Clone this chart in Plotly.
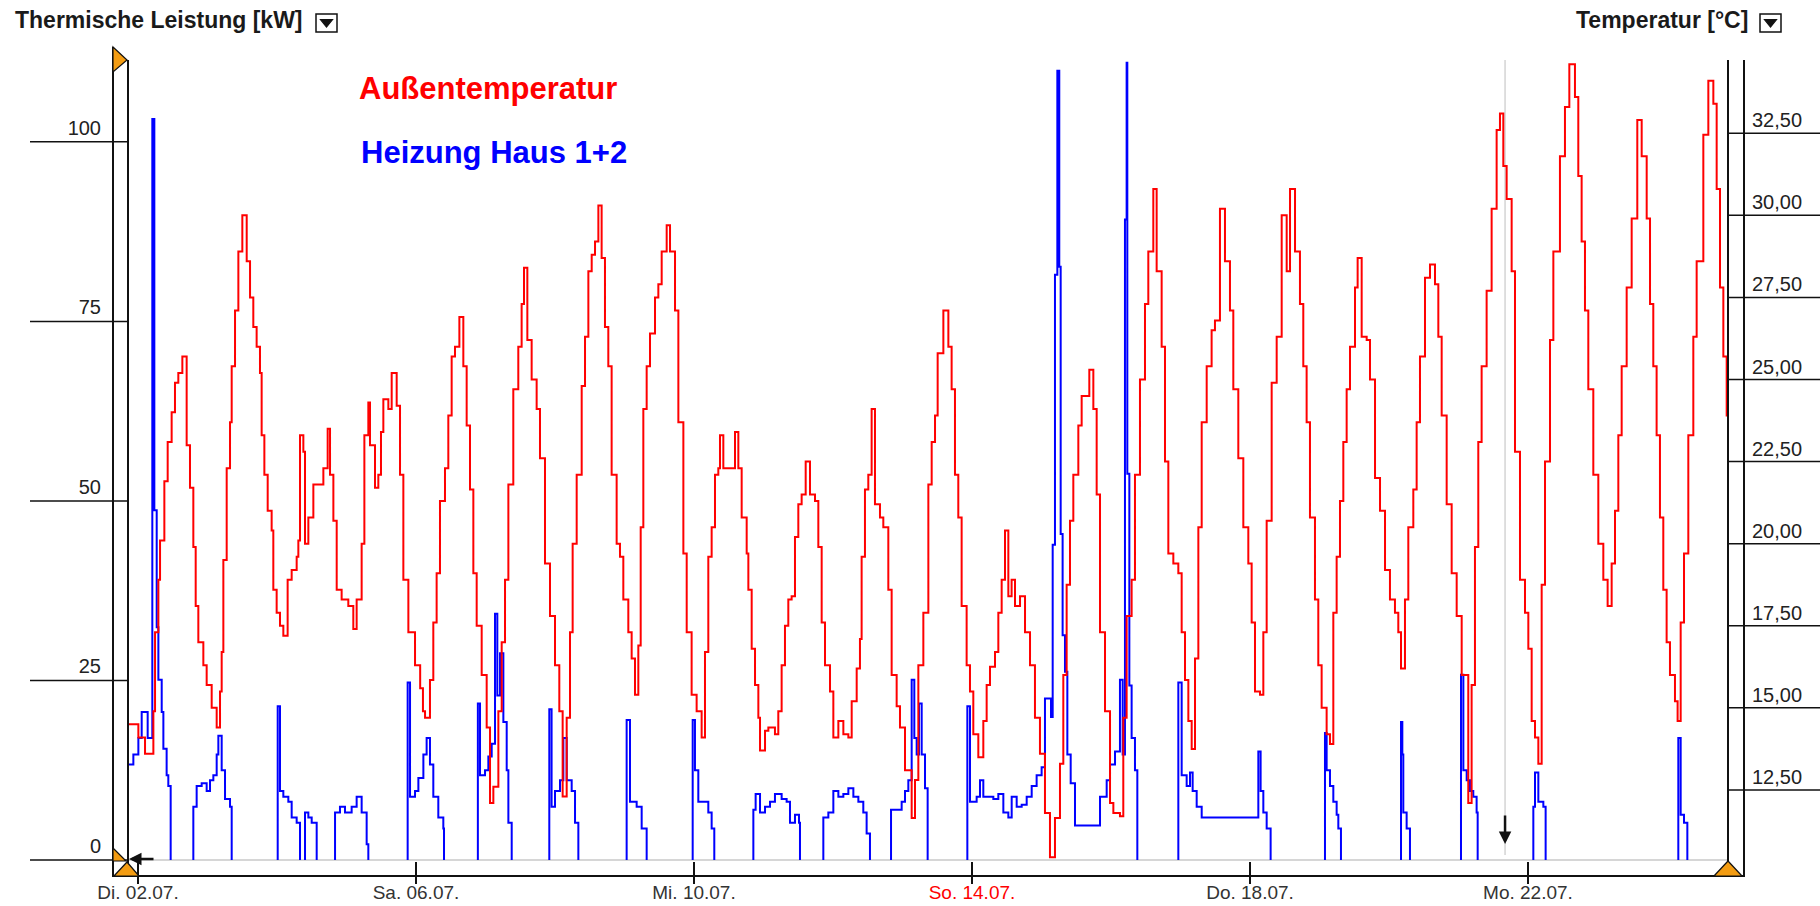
import plotly.graph_objects as go

# ---------------- data ----------------
tick_days = [0, 4, 8, 12, 16, 20]
tick_text = ["Di. 02.07.", "Sa. 06.07.", "Mi. 10.07.", "So. 14.07.", "Do. 18.07.", "Mo. 22.07."]
tick_red = [False, False, False, True, False, False]
kw_ticks = [0, 25, 50, 75, 100]
temp_ticks = [12.5, 15, 17.5, 20, 22.5, 25, 27.5, 30, 32.5]
cursor_day = 19.67

# Außentemperatur (days since 02.07. 00:00, degC)
temp_day = [
    -0.139, 0.005, 0.101, 0.221, 0.245, 0.293, 0.317, 0.379, 0.427, 0.484, 0.532, 0.580, 0.638,
    0.700, 0.748, 0.796, 0.830, 0.868, 0.940, 0.988, 1.060, 1.132, 1.180, 1.204, 1.228, 1.276,
    1.324, 1.348, 1.396, 1.444, 1.501, 1.564, 1.612, 1.659, 1.707, 1.755, 1.779, 1.818, 1.866,
    1.923, 1.947, 1.995, 2.043, 2.091, 2.153, 2.211, 2.283, 2.307, 2.331, 2.379, 2.403, 2.451,
    2.523, 2.667, 2.729, 2.763, 2.811, 2.859, 2.930, 3.026, 3.098, 3.146, 3.218, 3.257, 3.314,
    3.338, 3.410, 3.458, 3.496, 3.530, 3.602, 3.650, 3.722, 3.770, 3.818, 3.890, 3.986, 4.060,
    4.100, 4.130, 4.201, 4.249, 4.297, 4.345, 4.417, 4.465, 4.513, 4.561, 4.624, 4.681, 4.729,
    4.777, 4.825, 4.873, 4.945, 5.017, 5.065, 5.113, 5.185, 5.233, 5.281, 5.329, 5.400, 5.472,
    5.520, 5.554, 5.602, 5.664, 5.736, 5.784, 5.856, 5.928, 6.000, 6.062, 6.110, 6.168, 6.216,
    6.254, 6.312, 6.384, 6.432, 6.480, 6.528, 6.576, 6.624, 6.671, 6.719, 6.767, 6.815, 6.887,
    6.935, 6.983, 7.055, 7.103, 7.151, 7.199, 7.233, 7.271, 7.319, 7.367, 7.439, 7.487, 7.535,
    7.607, 7.655, 7.727, 7.775, 7.847, 7.895, 7.966, 8.038, 8.110, 8.158, 8.206, 8.254, 8.302,
    8.350, 8.374, 8.422, 8.590, 8.638, 8.686, 8.758, 8.782, 8.830, 8.878, 8.926, 8.950, 9.022,
    9.070, 9.165, 9.213, 9.261, 9.309, 9.357, 9.405, 9.453, 9.501, 9.549, 9.607, 9.669, 9.741,
    9.789, 9.837, 9.885, 9.957, 10.005, 10.077, 10.149, 10.221, 10.269, 10.341, 10.388, 10.412,
    10.460, 10.508, 10.556, 10.604, 10.676, 10.724, 10.796, 10.844, 10.916, 10.964, 11.036,
    11.132, 11.180, 11.228, 11.300, 11.372, 11.420, 11.468, 11.506, 11.588, 11.660, 11.707,
    11.755, 11.803, 11.851, 11.923, 11.971, 12.019, 12.091, 12.163, 12.211, 12.259, 12.331,
    12.379, 12.427, 12.475, 12.523, 12.570, 12.619, 12.691, 12.763, 12.835, 12.906, 12.978,
    13.050, 13.122, 13.194, 13.266, 13.314, 13.362, 13.410, 13.458, 13.530, 13.578, 13.688,
    13.746, 13.794, 13.842, 13.914, 13.986, 14.034, 14.129, 14.177, 14.225, 14.297, 14.345,
    14.417, 14.489, 14.537, 14.609, 14.657, 14.729, 14.777, 14.825, 14.897, 14.969, 15.017,
    15.065, 15.113, 15.161, 15.209, 15.257, 15.305, 15.377, 15.448, 15.496, 15.568, 15.640,
    15.712, 15.760, 15.832, 15.904, 15.976, 16.024, 16.072, 16.144, 16.192, 16.240, 16.312,
    16.384, 16.456, 16.528, 16.576, 16.648, 16.719, 16.767, 16.815, 16.863, 16.935, 16.983,
    17.031, 17.103, 17.151, 17.199, 17.247, 17.295, 17.343, 17.391, 17.439, 17.511, 17.549,
    17.607, 17.679, 17.727, 17.799, 17.871, 17.943, 18.014, 18.086, 18.134, 18.173, 18.230,
    18.278, 18.350, 18.398, 18.446, 18.518, 18.590, 18.662, 18.710, 18.758, 18.830, 18.902,
    18.974, 19.046, 19.141, 19.189, 19.237, 19.285, 19.333, 19.405, 19.477, 19.549, 19.597,
    19.645, 19.693, 19.765, 19.813, 19.885, 19.957, 20.005, 20.053, 20.101, 20.149, 20.197,
    20.245, 20.317, 20.365, 20.460, 20.532, 20.595, 20.676, 20.724, 20.772, 20.820, 20.868,
    20.940, 21.012, 21.084, 21.146, 21.204, 21.252, 21.300, 21.348, 21.420, 21.492, 21.573,
    21.636, 21.708, 21.756, 21.803, 21.851, 21.899, 21.947, 21.995, 22.043, 22.115, 22.153,
    22.197, 22.245, 22.307, 22.379, 22.427, 22.523, 22.595, 22.667, 22.715, 22.763, 22.811,
    22.859, 22.878,
]
temp_c = [
    14.5, 14.1, 13.6, 14.9, 17.3, 18.9, 20.1, 21.9, 23.1, 24.0, 24.9, 25.2, 25.7,
    23.0, 21.7, 19.9, 18.1, 17.0, 16.3, 15.7, 15.0, 14.4, 15.5, 16.7, 19.5, 22.3,
    23.7, 25.4, 27.1, 28.9, 30.0, 28.6, 27.5, 26.6, 26.0, 25.2, 23.3, 22.1, 21.0,
    20.4, 18.6, 17.9, 17.5, 17.2, 18.9, 19.2, 19.6, 20.1, 23.3, 22.8, 20.0, 20.8,
    21.8, 22.3, 23.5, 22.1, 20.7, 18.6, 18.3, 18.1, 17.4, 18.3, 20.0, 23.3, 24.3,
    23.0, 21.7, 22.1, 23.4, 24.4, 24.1, 25.2, 24.2, 22.1, 18.9, 17.3, 16.3, 15.6,
    14.9, 14.7, 15.85, 17.6, 19.1, 21.3, 22.3, 23.9, 25.7, 26.0, 26.9, 25.4, 23.6,
    21.65, 19.1, 17.5, 16.0, 14.4, 12.1, 12.6, 14.9, 17.0, 18.9, 21.8, 24.7, 26.0,
    27.3, 28.4, 26.2, 25.0, 24.1, 22.6, 19.4, 17.8, 16.3, 14.9, 12.3, 14.7, 17.3,
    20.0, 22.1, 24.8, 26.3, 28.3, 28.8, 29.2, 30.3, 28.7, 26.6, 25.4, 22.1, 20.0,
    19.6, 18.3, 17.3, 16.5, 15.4, 16.9, 20.5, 24.1, 25.4, 26.4, 27.5, 27.9, 28.9,
    29.7, 28.9, 27.1, 23.7, 19.7, 17.3, 15.4, 14.9, 14.1, 16.7, 19.6, 20.5, 22.1,
    22.3, 23.3, 22.3, 23.4, 22.3, 20.8, 19.7, 18.6, 16.8, 15.7, 14.7, 13.7, 14.3,
    14.4, 14.2, 14.9, 16.3, 17.5, 18.3, 18.4, 20.2, 21.2, 21.5, 22.5, 21.5, 21.3,
    19.9, 17.6, 16.3, 15.5, 14.1, 14.6, 14.2, 14.1, 15.2, 16.2, 17.1, 19.6,
    21.65, 22.1, 24.1, 21.2, 20.8, 20.5, 18.6, 16.0, 15.05, 14.4, 13.1,
    11.65, 12.8, 16.3, 17.9, 21.8, 23.1, 23.9, 25.8, 27.1, 26.0, 24.7,
    22.1, 20.8, 18.1, 16.3, 15.5, 14.2, 13.5, 14.6, 15.7, 16.25, 16.7,
    17.9, 18.9, 20.4, 18.4, 18.9, 18.1, 18.4, 17.3, 16.3, 14.7, 13.6,
    11.8, 10.45, 11.65, 13.3, 16.0, 18.75, 20.7, 22.1, 23.6, 24.5, 25.3,
    24.1, 21.5, 17.3, 14.9, 12.1, 11.8, 11.7, 14.7, 17.8, 18.9, 22.1,
    25.0, 27.3, 28.9, 30.8, 28.3, 26.0, 22.5, 19.7, 19.4, 19.1, 17.3,
    15.85, 14.6, 13.75, 16.5, 20.5, 23.7, 25.4, 26.5, 26.8, 30.2, 28.6,
    27.1, 24.7, 22.6, 20.5, 19.4, 17.6, 15.5, 15.4, 17.3, 20.7, 24.9,
    26.3, 30.0, 28.3, 30.8, 28.9, 27.3, 25.4, 23.7, 20.8, 18.3, 16.3,
    15.0, 14.2, 13.9, 17.9, 19.6, 21.3, 23.1, 24.7, 26.0, 27.8, 28.7,
    26.3, 26.2, 25.0, 22.0, 21.0, 19.2, 18.3, 17.9, 17.3, 16.2, 18.3,
    20.5, 21.65, 23.7, 25.7, 28.1, 28.5, 27.9, 26.3, 23.9, 21.2, 19.1,
    17.8, 16.0, 12.1, 15.7, 19.9, 23.1, 25.4, 27.7, 30.2, 32.6, 33.1,
    31.5, 30.5, 28.3, 22.8, 18.9, 17.9, 16.8, 14.6, 14.1, 13.3, 18.75,
    22.5, 26.2, 28.9, 31.8, 33.3, 34.6, 33.6, 31.2, 29.2, 27.1, 24.7,
    22.1, 20.0, 18.9, 18.1, 19.4, 21.0, 23.3, 25.4, 27.8, 29.9, 32.9,
    31.8, 29.9, 27.3, 25.4, 23.3, 20.8, 18.6, 17.0, 16.0, 15.2, 14.6,
    17.6, 19.7, 23.3, 26.3, 28.6, 32.45, 34.1, 33.4, 30.8, 27.8, 25.7,
    23.9, 23.5,
]

# Heizung Haus 1+2 (days since 02.07. 00:00, kW); None = pump off / no line
heat_day = [
    -0.139, -0.067, 0.005, 0.053, 0.139, 0.206, 0.235, 0.269, 0.293, 0.341, 0.365, 0.412, 0.436, 0.470, None,
    0.796, 0.796, 0.844, 0.916, 0.988, 1.036, 1.084, 1.132, 1.156, 1.204, 1.252, 1.324, 1.348, None,
    2.010, 2.010, 2.043, 2.091, 2.163, 2.211, 2.283, 2.331, None,
    2.403, 2.403, 2.451, 2.499, 2.571, None,
    2.835, 2.835, 2.906, 2.978, 3.074, 3.146, 3.218, 3.290, 3.314, None,
    3.880, 3.880, 3.914, 3.986, 4.034, 4.106, 4.153, 4.201, 4.249, 4.321, 4.393, 4.403, None,
    4.890, 4.890, 4.921, 4.993, 5.041, 5.089, 5.137, 5.170, 5.209, 5.257, 5.305, 5.329, 5.377, None,
    5.918, 5.918, 5.951, 6.000, 6.072, 6.120, 6.168, 6.240, 6.288, 6.336, None,
    7.031, 7.031, 7.079, 7.175, 7.247, 7.319, None,
    7.981, 7.981, 8.014, 8.062, 8.134, 8.206, 8.254, 8.292, None,
    8.854, 8.854, 8.887, 8.950, 9.022, 9.094, 9.165, 9.261, 9.333, 9.381, 9.453, 9.511, 9.525, None,
    9.861, 9.861, 9.933, 10.005, 10.077, 10.149, 10.221, 10.293, 10.365, 10.436, 10.484, 10.532, None,
    10.835, 10.835, 10.916, 10.988, 11.036, 11.084, 11.132, 11.170, 11.204, 11.237, 11.276, 11.324, 11.362, None,
    11.933, 11.933, 11.971, 12.067, 12.115, 12.163, 12.307, 12.379, 12.451, 12.523, 12.571, 12.595, 12.643,
    12.715, 12.787, 12.859, 12.930, 13.002, 13.050, 13.137, 13.161, 13.194, 13.228, 13.256, 13.276, 13.304,
    13.338, 13.372, 13.420, 13.482, 13.842, 13.938, 13.986, 14.058, 14.129, 14.168, 14.201, 14.225, 14.235,
    14.264, 14.297, 14.345, 14.379, None,
    14.969, 14.969, 15.017, 15.089, 15.137, 15.175, 15.233, 15.305, 16.120, 16.153, 16.192, 16.240, 16.297, None,
    17.079, 17.079, 17.103, 17.151, 17.199, 17.247, 17.271, 17.309, None,
    18.173, 18.173, 18.192, 18.206, 18.254, 18.302, None,
    19.036, 19.036, 19.070, 19.118, 19.165, 19.213, 19.261, 19.276, None,
    20.077, 20.077, 20.101, 20.149, 20.221, 20.254, None,
    22.163, 22.163, 22.197, 22.245, 22.293,
]
heat_kw = [
    13.3, 14.7, 17.0, 20.6, 17.0, 103.2, 48.7, 32.4, 25.1, 20.6, 15.5, 11.8, 10.3, 0, None,
    0, 7.4, 10.3, 10.7, 9.6, 11.1, 11.8, 14.7, 17.3, 12.5, 8.5, 7.4, 0, None,
    0, 21.4, 9.6, 8.8, 8.1, 5.9, 5.2, 0, None,
    0, 6.6, 5.9, 5.2, 0, None,
    0, 6.6, 7.4, 6.6, 7.4, 8.8, 6.6, 2.2, 0, None,
    0, 24.7, 8.8, 9.6, 11.4, 14.7, 17.0, 13.3, 8.8, 5.9, 4.4, 0, None,
    0, 21.8, 11.8, 12.5, 14.4, 16.2, 34.3, 22.9, 28.8, 19.2, 12.5, 5.2, 0, None,
    0, 21.0, 7.4, 9.6, 11.1, 17.0, 11.1, 9.6, 5.2, 0, None,
    0, 19.5, 8.1, 7.4, 4.4, 0, None,
    0, 19.5, 12.5, 8.1, 8.1, 6.6, 4.4, 0, None,
    0, 7.0, 9.2, 6.6, 7.4, 8.1, 9.2, 8.5, 8.1, 5.2, 6.3, 5.2, 0, None,
    0, 5.9, 6.6, 9.6, 8.8, 9.2, 10.0, 8.8, 8.1, 6.6, 3.7, 0, None,
    0, 7.0, 7.0, 8.1, 9.6, 11.1, 25.1, 17.0, 14.7, 21.8, 14.7, 10.0, 0, None,
    0, 21.4, 8.1, 8.8, 11.1, 8.8, 8.5, 9.2, 6.6, 5.9, 8.8, 8.8, 7.4,
    7.7, 8.8, 10.3, 11.8, 12.9, 22.5, 19.9, 43.9, 81.5, 109.9, 82.6, 45.4, 31.3,
    26.2, 14.7, 10.7, 4.8, 8.8, 11.1, 13.3, 15.1, 25.1, 14.7, 89.2, 111.0, 53.8,
    24.3, 17.0, 12.5, 0, None,
    0, 24.7, 11.8, 10.3, 12.2, 9.6, 7.4, 5.9, 15.1, 9.6, 6.6, 4.4, 0, None,
    0, 17.7, 12.5, 10.3, 8.1, 6.3, 4.4, 0, None,
    0, 19.2, 14.7, 6.6, 4.4, 0, None,
    0, 25.8, 12.5, 11.1, 9.6, 8.8, 6.6, 0, None,
    0, 7.4, 12.2, 8.1, 7.4, 0, None,
    0, 17.0, 6.3, 5.2, 0,
]

# ---------------- layout helpers (pixel -> paper) ----------------
W, H = 1820, 906
L, R, T, B = 128, 1728, 60, 876


def px(x):
    return (x - L) / (R - L)


def py(y):
    return (B - y) / (B - T)


FONT = "Liberation Sans, Arial, sans-serif"
BLACK = "#111111"

fig = go.Figure()
fig.add_trace(go.Scatter(
    x=heat_day, y=heat_kw, mode="lines", line=dict(color="#0000ff", width=2, shape="hv"),
    connectgaps=False, name="Heizung Haus 1+2", yaxis="y", showlegend=False))
fig.add_trace(go.Scatter(
    x=temp_day, y=temp_c, mode="lines", line=dict(color="#ff0000", width=2, shape="hv"),
    name="Außentemperatur", yaxis="y2", showlegend=False))

ticktext = [f"<span style='color:#ff0000'>{t}</span>" if red else t
            for t, red in zip(tick_text, tick_red)]

shapes = []
line_k = dict(color=BLACK, width=2)
# double vertical axis lines + bottom axis line
for xv, y0 in [(113, 47), (L, T), (R, T), (1744, T)]:
    shapes.append(dict(type="line", xref="paper", yref="paper", x0=px(xv), x1=px(xv),
                       y0=py(y0), y1=py(877), line=line_k))
shapes.append(dict(type="line", xref="paper", yref="paper", x0=px(113), x1=px(1744),
                   y0=py(B), y1=py(B), line=line_k))
# y tick lines
for v in kw_ticks:
    shapes.append(dict(type="line", xref="paper", yref="y", x0=px(30), x1=px(L),
                       y0=v, y1=v, line=dict(color=BLACK, width=1.5)))
for v in temp_ticks:
    shapes.append(dict(type="line", xref="paper", yref="y2", x0=px(R), x1=px(W),
                       y0=v, y1=v, line=dict(color=BLACK, width=1.5)))
# x tick marks
for d in tick_days:
    shapes.append(dict(type="line", xref="x", yref="paper", x0=d, x1=d,
                       y0=py(862), y1=py(884), line=dict(color=BLACK, width=2)))
# cursor line
shapes.append(dict(type="line", xref="x", yref="paper", x0=cursor_day, x1=cursor_day,
                   y0=py(T), y1=py(855), line=dict(color="#d4d4d4", width=1.5), layer="below"))


def tri(pts, fill="#f39c12"):
    path = "M " + " L ".join(f"{px(a)},{py(b)}" for a, b in pts) + " Z"
    return dict(type="path", xref="paper", yref="paper", path=path,
                fillcolor=fill, line=dict(color=BLACK, width=1.2))


shapes.append(tri([(113, 47), (127, 60), (113, 72)]))
shapes.append(tri([(113, 848), (113, 861), (126, 861)]))
shapes.append(tri([(114, 876), (139, 876), (127, 862)]))
shapes.append(tri([(1714, 876), (1742, 876), (1728, 861)]))
# drop-down boxes
for bx in (316, 1760):
    shapes.append(dict(type="rect", xref="paper", yref="paper", x0=px(bx), x1=px(bx + 21),
                       y0=py(32), y1=py(14), line=dict(color=BLACK, width=1.5), fillcolor="white"))
    shapes.append(tri([(bx + 4.5, 19.5), (bx + 16.5, 19.5), (bx + 10.5, 27)], fill=BLACK))

annotations = [
    dict(text="<b>Außentemperatur</b>", xref="paper", yref="paper", x=px(357), y=py(89),
         xanchor="left", yanchor="middle", showarrow=False,
         font=dict(family=FONT, size=31, color="#ff0000")),
    dict(text="<b>Heizung Haus 1+2</b>", xref="paper", yref="paper", x=px(359), y=py(152),
         xanchor="left", yanchor="middle", showarrow=False,
         font=dict(family=FONT, size=31, color="#0000ff")),
    dict(text="<b>Thermische Leistung [kW]</b>", xref="paper", yref="paper", x=px(13), y=py(20),
         xanchor="left", yanchor="middle", showarrow=False,
         font=dict(family=FONT, size=23, color="#1a1a1a")),
    dict(text="<b>Temperatur [°C]</b>", xref="paper", yref="paper", x=px(1574), y=py(20),
         xanchor="left", yanchor="middle", showarrow=False,
         font=dict(family=FONT, size=23, color="#1a1a1a")),
    # cursor arrow
    dict(text="", xref="x", yref="paper", x=cursor_day, y=py(844), ax=0, ay=-30,
         showarrow=True, arrowhead=2, arrowsize=1, arrowwidth=2.5, arrowcolor=BLACK),
    # left start arrow
    dict(text="", xref="paper", yref="paper", x=px(129), y=py(859), ax=26, ay=0,
         showarrow=True, arrowhead=2, arrowsize=1, arrowwidth=2.5, arrowcolor=BLACK),
]

fig.update_layout(
    width=W, height=H,
    margin=dict(l=L, r=W - R, t=T, b=H - B, pad=0, autoexpand=False),
    paper_bgcolor="white", plot_bgcolor="white",
    separators=",.",
    showlegend=False,
    font=dict(family=FONT, size=19, color="#222222"),
    xaxis=dict(range=[-0.144, 22.878], tickvals=tick_days, ticktext=ticktext, ticks="",
               showgrid=False, zeroline=False, showline=False, ticklabelstandoff=3,
               automargin=False,
               tickfont=dict(family=FONT, size=19, color="#333333")),
    yaxis=dict(range=[-2.23, 111.4], tickvals=kw_ticks, ticks="", showgrid=False,
               zeroline=True, zerolinecolor="#d6d6d6", zerolinewidth=2, showline=False,
               ticklabelstandoff=26, ticklabelshift=-14, automargin=False,
               tickfont=dict(family=FONT, size=20, color="#222222")),
    yaxis2=dict(range=[9.88, 34.73], tickvals=temp_ticks, tickformat=".2f", overlaying="y",
                side="right", ticks="", showgrid=False, zeroline=False, showline=False,
                ticklabelstandoff=23, ticklabelshift=-13, automargin=False,
                tickfont=dict(family=FONT, size=20, color="#222222")),
    shapes=shapes,
    annotations=annotations,
)

fig.write_html("out.html", config={"displayModeBar": False},
               post_script="document.body.style.margin='0';")
